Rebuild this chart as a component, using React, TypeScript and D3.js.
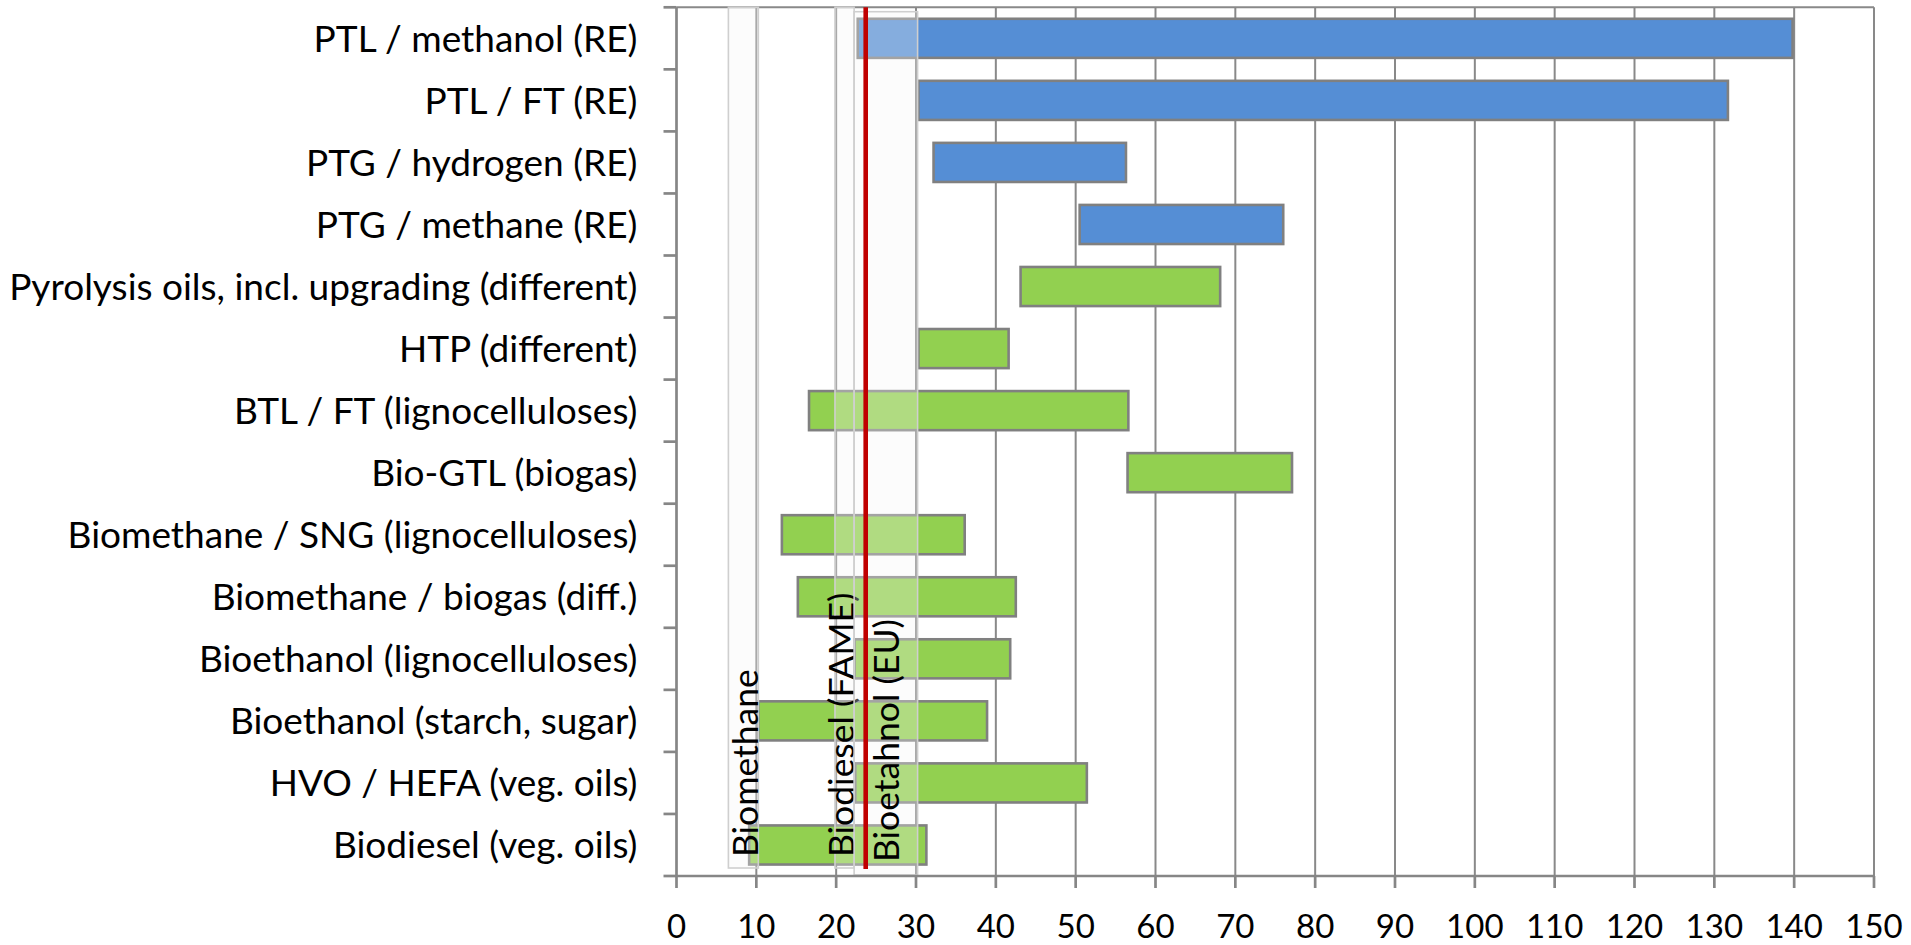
import React, { useEffect } from "react";
import * as d3 from "d3";

const categories = [
  "PTL / methanol (RE)",
  "PTL / FT (RE)",
  "PTG / hydrogen (RE)",
  "PTG / methane (RE)",
  "Pyrolysis oils, incl. upgrading (different)",
  "HTP (different)",
  "BTL / FT (lignocelluloses)",
  "Bio-GTL (biogas)",
  "Biomethane / SNG (lignocelluloses)",
  "Biomethane / biogas (diff.)",
  "Bioethanol (lignocelluloses)",
  "Bioethanol (starch, sugar)",
  "HVO / HEFA (veg. oils)",
  "Biodiesel (veg. oils)",
];
const lows = [22.7, 30.3, 32.2, 50.5, 43.1, 30.3, 16.6, 56.5, 13.2, 15.2, 22.3, 10.25, 22.4, 9.1];
const highs = [139.8, 131.7, 56.3, 76.0, 68.1, 41.6, 56.6, 77.1, 36.1, 42.5, 41.8, 38.9, 51.4, 31.3];
const groups = ["ptx", "ptx", "ptx", "ptx", "bio", "bio", "bio", "bio", "bio", "bio", "bio", "bio", "bio", "bio"];

const xTicks = [0, 10, 20, 30, 40, 50, 60, 70, 80, 90, 100, 110, 120, 130, 140, 150];

const refLabels = ["Biomethane", "Biodiesel (FAME)", "Bioetahnol (EU)"];
const refStart = [6.5, 19.85, 22.25];
const refEnd = [10.25, 22.25, 30.2];
const refTextAt = [10.2, 22.2, 27.9];
const euLimit = 23.7;

const W = 1911;
const H = 945;
const M = { left: 676.5, right: 37, top: 7.3, bottom: 69 };
const FONT = "Lato, 'Open Sans', sans-serif";
const GRID = "#898989";
const AXIS = "#868686";
const colors: Record<string, string> = { ptx: "#558ed5", bio: "#92d050" };

// per-box style offsets (px)
const boxTopPad = [0, 0, 4.4];
const boxBottomPad = [8, 8, 1];
const textBottomPad = [19, 19, 14];

export default function App() {
  useEffect(() => {
    document.body.style.margin = "0";
  }, []);

  const x = d3.scaleLinear().domain([0, 150]).range([M.left, W - M.right]);
  const y = d3
    .scaleBand<string>()
    .domain(categories)
    .range([M.top, H - M.bottom])
    .paddingInner(0.37)
    .paddingOuter(0.185);
  const step = y.step();
  const y0 = M.top;
  const y1 = H - M.bottom;
  const catFont = 37;
  const tickFont = 33;
  const refFont = 35.5;

  return (
    <svg width={W} height={H} style={{ display: "block", background: "#fff" }} fontFamily={FONT}>
      {/* vertical gridlines */}
      {xTicks.slice(1).map((t) => (
        <line key={"g" + t} x1={x(t)} x2={x(t)} y1={y0} y2={y1} stroke={GRID} strokeWidth={2} />
      ))}
      {/* top border */}
      <line x1={x(0)} x2={x(150)} y1={y0} y2={y0} stroke={GRID} strokeWidth={2} />

      {/* bars */}
      {categories.map((c, i) => (
        <rect
          key={"b" + i}
          x={x(lows[i])}
          y={y(c)!}
          width={x(highs[i]) - x(lows[i])}
          height={y.bandwidth()}
          fill={colors[groups[i]]}
          stroke="#808080"
          strokeWidth={2.6}
        />
      ))}

      {/* reference boxes with rotated labels */}
      {refLabels.map((lab, i) => {
        const bx = x(refStart[i]);
        const bw = x(refEnd[i]) - x(refStart[i]);
        const tx = x(refTextAt[i]);
        const ty = y1 - textBottomPad[i];
        return (
          <g key={"r" + i}>
            <rect
              x={bx}
              y={y0 + boxTopPad[i]}
              width={bw}
              height={y1 - boxBottomPad[i] - y0 - boxTopPad[i]}
              fill="#f5f5f5"
              fillOpacity={0.3}
              stroke="#cfcfcf"
              strokeWidth={1.6}
            />
            <text
              transform={`translate(${tx},${ty}) rotate(-90)`}
              fontSize={refFont}
              fill="#000"
            >
              {lab}
            </text>
          </g>
        );
      })}

      {/* EU limit red line */}
      <line x1={x(euLimit)} x2={x(euLimit)} y1={y0} y2={y1 - 7} stroke="#c00000" strokeWidth={4.6} />

      {/* left axis */}
      <line x1={x(0)} x2={x(0)} y1={y0} y2={y1} stroke={AXIS} strokeWidth={2.7} />
      {d3.range(categories.length + 1).map((k) => (
        <line
          key={"lt" + k}
          x1={x(0) - 13}
          x2={x(0)}
          y1={y0 + k * step}
          y2={y0 + k * step}
          stroke={AXIS}
          strokeWidth={2.7}
        />
      ))}
      {categories.map((c, i) => (
        <text
          key={"cl" + i}
          x={x(0) - 39}
          y={y(c)! + y.bandwidth() / 2 + catFont * 0.36}
          textAnchor="end"
          fontSize={catFont}
          fill="#000"
        >
          {c}
        </text>
      ))}

      {/* bottom axis */}
      <line x1={x(0)} x2={x(150)} y1={y1} y2={y1} stroke={AXIS} strokeWidth={2.7} />
      {xTicks.map((t) => (
        <g key={"xt" + t}>
          <line x1={x(t)} x2={x(t)} y1={y1} y2={y1 + 12} stroke={AXIS} strokeWidth={2.7} />
          <text x={x(t)} y={938} textAnchor="middle" fontSize={tickFont} fill="#000">
            {t}
          </text>
        </g>
      ))}
    </svg>
  );
}
